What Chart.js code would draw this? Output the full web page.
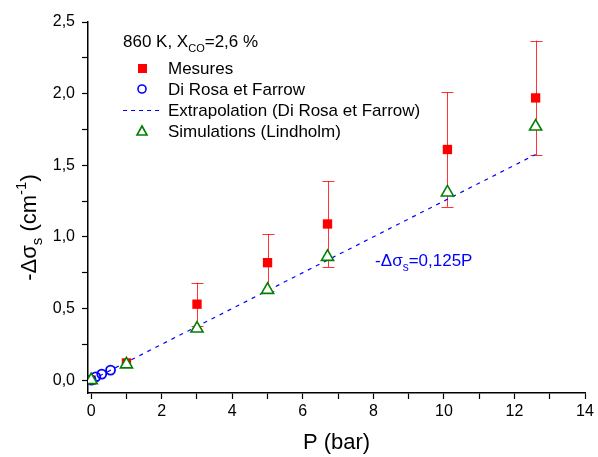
<!DOCTYPE html>
<html>
<head>
<meta charset="utf-8">
<script src="https://cdn.jsdelivr.net/npm/chart.js@4.4.1/dist/chart.umd.min.js"></script>
<style>
  html, body { margin: 0; padding: 0; background: #fff; }
  #wrap { width: 598px; height: 457px; }
</style>
</head>
<body>
<div id="wrap"><canvas id="chart" width="598" height="457"></canvas></div>
<script>
// pressure (bar)
const pressure = [0, 1, 3, 5, 6.7, 10.1, 12.6];
const mesures = [0, 0.12, 0.53, 0.82, 1.09, 1.61, 1.97];
const mesuresErr = [0, 0, 0.15, 0.2, 0.3, 0.4, 0.4];
const simulations = [0, 0.11, 0.36, 0.63, 0.86, 1.31, 1.77];
const diRosaP = [0, 0.13, 0.3, 0.55];
const diRosa = [0, 0.023, 0.042, 0.07];
const extrapP = [0, 12.6];
const extrapY = [0, 1.575];
const xLabels = [0, 2, 4, 6, 8, 10, 12, 14];
const yLabels = [0, 0.5, 1, 1.5, 2, 2.5];

const FONT = "'Liberation Sans', Arial, sans-serif";
Chart.defaults.font.family = FONT;
Chart.defaults.color = '#000';

const pts = (xs, ys) => xs.map((x, i) => ({ x, y: ys[i] }));

// draw a text made of pieces (sub/superscripts)
function richText(ctx, parts, x, y, align) {
  let total = 0;
  parts.forEach(p => { ctx.font = p.size + 'px ' + FONT; total += ctx.measureText(p.text).width; });
  let cx = align === 'center' ? x - total / 2 : x;
  ctx.textAlign = 'left';
  ctx.textBaseline = 'alphabetic';
  parts.forEach(p => {
    ctx.font = p.size + 'px ' + FONT;
    ctx.fillText(p.text, cx, y + (p.dy || 0));
    cx += ctx.measureText(p.text).width;
  });
}

const errorBars = {
  id: 'errorBars',
  beforeDatasetsDraw(chart) {
    const { ctx, scales: { x, y } } = chart;
    ctx.save();
    ctx.strokeStyle = 'rgba(255,0,0,0.8)';
    ctx.lineWidth = 1;
    pressure.forEach((p, i) => {
      const e = mesuresErr[i];
      if (!e) return;
      const px = Math.round(x.getPixelForValue(p)) + 0.5;
      const top = y.getPixelForValue(mesures[i] + e);
      const bot = y.getPixelForValue(mesures[i] - e);
      ctx.beginPath();
      ctx.moveTo(px, top); ctx.lineTo(px, bot);
      ctx.moveTo(px - 6, Math.round(top) + 0.5); ctx.lineTo(px + 6, Math.round(top) + 0.5);
      ctx.moveTo(px - 6, Math.round(bot) + 0.5); ctx.lineTo(px + 6, Math.round(bot) + 0.5);
      ctx.stroke();
    });
    ctx.restore();
  }
};

const decorations = {
  id: 'decorations',
  afterDraw(chart) {
    const { ctx, scales: { x, y } } = chart;
    ctx.save();
    ctx.fillStyle = '#000';

    // axis titles
    richText(ctx, [{ text: 'P (bar)', size: 22 }], (x.left + x.right) / 2, 449, 'center');
    ctx.save();
    ctx.translate(36, (y.top + y.bottom) / 2 + 20);
    ctx.rotate(-Math.PI / 2);
    richText(ctx, [
      { text: '-\u0394\u03C3', size: 22 },
      { text: 's', size: 15, dy: 6 },
      { text: ' (cm', size: 22 },
      { text: '-1', size: 15, dy: -10 },
      { text: ')', size: 22 }
    ], 0, 0, 'center');
    ctx.restore();

    // annotation
    ctx.fillStyle = '#0000ff';
    richText(ctx, [
      { text: '-\u0394\u03C3', size: 17 },
      { text: 's', size: 12, dy: 5 },
      { text: '=0,125P', size: 17 }
    ], x.getPixelForValue(8.05), y.getPixelForValue(0.8), 'left');

    // legend
    ctx.fillStyle = '#000';
    richText(ctx, [
      { text: '860 K, X', size: 17 },
      { text: 'CO', size: 11, dy: 5 },
      { text: '=2,6 %', size: 17 }
    ], 123, 47, 'left');
    const rows = [68, 89, 110, 131];
    const labels = ['Mesures', 'Di Rosa et Farrow', 'Extrapolation (Di Rosa et Farrow)', 'Simulations (Lindholm)'];
    labels.forEach((t, i) => richText(ctx, [{ text: t, size: 17 }], 168, rows[i] + 6, 'left'));
    const mx = 142;
    ctx.fillStyle = '#ff0000';
    ctx.fillRect(mx - 4, rows[0] - 4, 9, 9);
    ctx.strokeStyle = '#0000ff';
    ctx.lineWidth = 1.6;
    ctx.beginPath(); ctx.arc(mx, rows[1], 4, 0, Math.PI * 2); ctx.stroke();
    ctx.lineWidth = 1.2;
    ctx.setLineDash([4, 4]);
    ctx.beginPath(); ctx.moveTo(123, rows[2] + 0.5); ctx.lineTo(163, rows[2] + 0.5); ctx.stroke();
    ctx.setLineDash([]);
    ctx.strokeStyle = '#008000';
    ctx.lineWidth = 1.6;
    ctx.beginPath();
    ctx.moveTo(mx, rows[3] - 5); ctx.lineTo(mx + 5, rows[3] + 4); ctx.lineTo(mx - 5, rows[3] + 4); ctx.closePath();
    ctx.stroke();
    ctx.restore();
  }
};

new Chart(document.getElementById('chart'), {
  type: 'scatter',
  data: {
    datasets: [
      {
        label: 'Simulations (Lindholm)',
        data: pts(pressure, simulations),
        pointStyle: 'triangle',
        pointRadius: 7,
        borderColor: '#008000',
        backgroundColor: '#ffffff',
        borderWidth: 1.6,
        order: 0
      },
      {
        label: 'Di Rosa et Farrow',
        data: pts(diRosaP, diRosa),
        pointStyle: 'circle',
        pointRadius: 4.5,
        borderColor: '#0000ff',
        backgroundColor: 'rgba(0,0,0,0)',
        borderWidth: 1.8,
        order: 1
      },
      {
        label: 'Mesures',
        data: pts(pressure, mesures),
        pointStyle: 'rect',
        pointRadius: 6.6,
        borderColor: '#ff0000',
        backgroundColor: '#ff0000',
        borderWidth: 0,
        order: 2
      },
      {
        label: 'Extrapolation (Di Rosa et Farrow)',
        data: pts(extrapP, extrapY),
        showLine: true,
        pointRadius: 0,
        borderColor: '#0000ff',
        borderWidth: 1.2,
        borderDash: [4, 5],
        order: 3
      }
    ]
  },
  options: {
    responsive: false,
    animation: false,
    layout: { padding: { top: 22, right: 13, left: 0, bottom: 0 } },
    plugins: { legend: { display: false }, tooltip: { enabled: false } },
    scales: {
      x: {
        type: 'linear',
        min: -0.09,
        max: 14,
        afterFit(s) { s.height = 64; },
        border: { display: true, color: '#000', width: 1.5 },
        grid: { drawOnChartArea: false, drawTicks: true, tickLength: 6, color: '#000', tickWidth: 1.2 },
        ticks: {
          stepSize: 1,
          includeBounds: false,
          maxRotation: 0,
          autoSkip: false,
          padding: 3,
          font: { size: 16 },
          callback: v => xLabels.includes(v) ? String(v) : ''
        }
      },
      y: {
        type: 'linear',
        min: -0.09,
        max: 2.5,
        afterFit(s) { s.width = 88; },
        border: { display: true, color: '#000', width: 1.5 },
        grid: { drawOnChartArea: false, drawTicks: true, tickLength: 6, color: '#000', tickWidth: 1.2 },
        ticks: {
          stepSize: 0.25,
          includeBounds: false,
          autoSkip: false,
          padding: 7,
          font: { size: 16 },
          callback: v => yLabels.some(l => Math.abs(l - v) < 1e-6) ? v.toFixed(1).replace('.', ',') : ''
        }
      }
    }
  },
  plugins: [errorBars, decorations]
});
</script>
</body>
</html>
